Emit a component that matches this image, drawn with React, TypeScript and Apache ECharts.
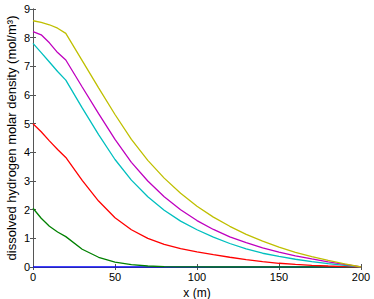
import React, { useEffect, useRef } from "react";
import * as echarts from "echarts";

const xs = [0, 5, 10, 15, 20, 30, 40, 50, 60, 70, 80, 90, 100, 110, 120, 130, 140, 150, 160, 170, 180, 190, 200];

const blueVals = [0, 0, 0, 0, 0, 0, 0, 0, 0, 0, 0, 0, 0, 0, 0, 0, 0, 0, 0, 0, 0, 0, 0];
const greenVals = [2.05, 1.7, 1.42, 1.22, 1.06, 0.62, 0.34, 0.17, 0.08, 0.035, 0.015, 0.007, 0.003, 0, 0, 0, 0, 0, 0, 0, 0, 0, 0];
const redVals = [5.0, 4.72, 4.4, 4.1, 3.82, 3.02, 2.3, 1.72, 1.3, 1.0, 0.79, 0.64, 0.53, 0.43, 0.34, 0.26, 0.19, 0.13, 0.09, 0.06, 0.035, 0.015, 0];
const cyanVals = [7.8, 7.48, 7.15, 6.82, 6.52, 5.55, 4.62, 3.75, 3.03, 2.45, 1.98, 1.6, 1.3, 1.04, 0.82, 0.63, 0.48, 0.37, 0.27, 0.19, 0.12, 0.06, 0];
const magentaVals = [8.21, 8.1, 7.82, 7.48, 7.22, 6.28, 5.35, 4.45, 3.65, 3.0, 2.45, 2.0, 1.62, 1.31, 1.05, 0.85, 0.67, 0.52, 0.39, 0.28, 0.18, 0.09, 0];
const yellowVals = [8.59, 8.53, 8.45, 8.33, 8.15, 7.2, 6.25, 5.32, 4.45, 3.72, 3.1, 2.57, 2.12, 1.74, 1.42, 1.14, 0.9, 0.69, 0.51, 0.36, 0.23, 0.11, 0];

const seriesList = [
  { name: "b", values: blueVals, color: "#0000ff" },
  { name: "g", values: greenVals, color: "#008000" },
  { name: "r", values: redVals, color: "#ff0000" },
  { name: "c", values: cyanVals, color: "#00bfbf" },
  { name: "m", values: magentaVals, color: "#bf00bf" },
  { name: "y", values: yellowVals, color: "#bfbf00" },
];

const FONT = "'Liberation Sans', Arial, Helvetica, sans-serif";
const AXIS_COLOR = "#555555";

export default function App() {
  const ref = useRef<HTMLDivElement>(null);
  useEffect(() => {
    if (!ref.current) return;
    const chart = echarts.init(ref.current, undefined, { renderer: "svg" });
    const axisLine = { show: true, lineStyle: { color: AXIS_COLOR, width: 1 } };
    const axisTick = { show: true, inside: true, length: 3, lineStyle: { color: AXIS_COLOR } };
    chart.setOption({
      animation: false,
      backgroundColor: "#ffffff",
      textStyle: { fontFamily: FONT },
      grid: { left: 33, right: 13, top: 9, bottom: 32, containLabel: false, outerBoundsMode: "none" },
      xAxis: [
        {
          type: "value", min: 0, max: 200, interval: 50,
          name: "x (m)", nameLocation: "middle", nameGap: 16,
          nameTextStyle: { color: "#000", fontSize: 12, fontFamily: FONT },
          axisLine, axisTick,
          axisLabel: { color: "#000", fontSize: 11, margin: 4, fontFamily: FONT },
          splitLine: { show: false },
        },
        {
          type: "value", position: "top", min: 0, max: 200, interval: 50,
          axisLine, axisTick, axisLabel: { show: false }, splitLine: { show: false },
        },
      ],
      yAxis: [
        {
          type: "value", min: 0, max: 9, interval: 1,
          name: "dissolved hydrogen molar density (mol/m³)", nameLocation: "middle", nameGap: 15,
          nameMoveOverlap: false,
          nameTextStyle: { color: "#000", fontSize: 13, fontFamily: FONT },
          axisLine, axisTick,
          axisLabel: { color: "#000", fontSize: 11, margin: 3, fontFamily: FONT },
          splitLine: { show: false },
        },
        {
          type: "value", position: "right", min: 0, max: 9, interval: 1,
          axisLine, axisTick, axisLabel: { show: false }, splitLine: { show: false },
        },
      ],
      series: seriesList.map((s) => ({
        name: s.name,
        type: "line",
        xAxisIndex: 0,
        yAxisIndex: 0,
        showSymbol: false,
        symbol: "none",
        lineStyle: { color: s.color, width: 1.3 },
        itemStyle: { color: s.color },
        data: xs.map((x, i) => [x, s.values[i]]),
      })),
    });
    return () => chart.dispose();
  }, []);
  return <div ref={ref} style={{ position: "fixed", left: 0, top: 0, width: 374, height: 299 }} />;
}
